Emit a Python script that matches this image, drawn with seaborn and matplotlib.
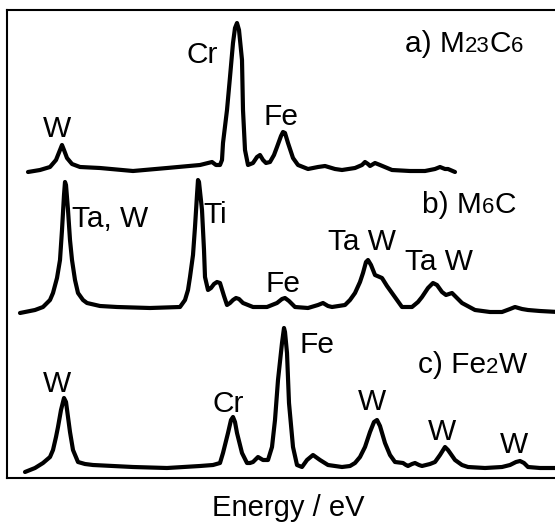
import numpy as np
import pandas as pd
import matplotlib
matplotlib.use("Agg")
import matplotlib.pyplot as plt
import seaborn as sns

# ---------------- data ----------------
# energy axis in arbitrary (uncalibrated) units; intensities relative to each spectrum's baseline
energy_a = [28, 40, 50, 56, 60, 62, 64, 67, 72, 80, 100, 133, 167, 200, 208, 212, 216, 220,
            222, 223, 227, 230, 233, 235, 237, 239, 242, 243, 245, 248, 253, 257, 260, 263,
            266, 270, 274, 277, 281, 283, 285, 288, 293, 298, 308, 318, 325, 335, 342, 355,
            362, 365, 368, 370, 375, 380, 392, 410, 425, 435, 440, 445, 448, 455]
inten_a = [-2, 0, 3, 10, 20, 25, 20, 12, 6, 3, 2, -1, 2, 5, 7, 8, 5, 5,
           10, 27, 60, 93, 127, 142, 147, 140, 110, 60, 20, 5, 7, 13, 15, 10,
           7, 8, 15, 23, 34, 38, 37, 27, 12, 5, 1, 3, 4, 1, 0, 2,
           5, 8, 6, 4, 7, 5, 0, -1, -1, 1, 3, 1, 1, -2]

energy_b = [20, 35, 43, 50, 53, 57, 60, 62, 64, 65, 66, 68, 70, 72, 75, 78, 83, 87, 100, 117,
            150, 180, 185, 188, 190, 193, 195, 197, 198, 199, 202, 204, 205, 208, 211, 214,
            217, 220, 224, 227, 230, 233, 236, 239, 243, 253, 267, 277, 282, 285, 289, 295,
            308, 318, 323, 328, 332, 345, 350, 355, 360, 363, 366, 368, 371, 375, 382, 387,
            392, 397, 402, 412, 418, 422, 428, 433, 437, 442, 446, 449, 452, 457, 462, 475,
            490, 502, 510, 515, 522, 528, 540, 558]
inten_b = [-3, 0, 3, 10, 17, 32, 50, 80, 115, 128, 125, 100, 70, 50, 30, 17, 10, 7, 4, 3,
           2, 3, 10, 20, 33, 55, 83, 115, 130, 128, 100, 60, 33, 20, 22, 26,
           28, 27, 14, 5, 7, 10, 12, 11, 7, 3, 3, 7, 11, 12, 9, 3,
           2, 5, 7, 4, 3, 5, 10, 17, 28, 37, 48, 50, 45, 35, 32, 24,
           17, 10, 3, 3, 8, 13, 22, 27, 25, 18, 15, 16, 17, 12, 7, 0,
           -2, -2, 1, 3, 1, 0, -1, -2]

energy_c = [25, 35, 43, 50, 53, 56, 58, 61, 64, 66, 68, 70, 73, 78, 85, 93, 133, 167, 200,
            213, 220, 223, 228, 231, 233, 235, 237, 242, 247, 250, 253, 258, 263, 268, 272,
            275, 278, 282, 284, 285, 287, 289, 293, 297, 302, 307, 313, 320, 328, 342, 350,
            355, 360, 365, 370, 374, 377, 380, 385, 390, 395, 403, 406, 408, 412, 415, 419,
            422, 430, 435, 440, 445, 448, 455, 462, 468, 485, 502, 510, 516, 520, 524, 528,
            540, 558]
inten_c = [-3, 1, 6, 12, 19, 32, 42, 59, 71, 67, 52, 37, 19, 7, 5, 4, 2, 1, 3,
           4, 6, 16, 36, 49, 52, 47, 36, 16, 6, 6, 7, 12, 9, 9, 22,
           49, 89, 126, 141, 137, 116, 66, 22, 4, 2, 9, 14, 9, 4, 2, 3,
           6, 12, 22, 37, 47, 49, 43, 26, 14, 7, 6, 4, 3, 5, 6, 4,
           3, 5, 7, 14, 22, 19, 9, 4, 2, 1, 2, 4, 7, 8, 6, 2,
           1, 1]

spectra = ["a", "b", "c"]
titles = {"a": ("a) M", "23", "C", "6"), "b": ("b) M", "6", "C", ""), "c": ("c) Fe", "2", "W", "")}

# peak labels: (spectrum, text, energy position of label's left edge, label height above baseline)
peak_labels = [
    ("a", "W", 43, 33), ("a", "Cr", 187, 107), ("a", "Fe", 263, 45),
    ("b", "Ta, W", 72, 83), ("b", "Ti", 203, 87), ("b", "Fe", 266, 18),
    ("b", "Ta W", 328, 60), ("b", "Ta W", 405, 40),
    ("c", "W", 43, 77), ("c", "Cr", 213, 57), ("c", "Fe", 300, 116),
    ("c", "W", 358, 59), ("c", "W", 428, 29), ("c", "W", 500, 16),
]

# ---------------- styling / layout ----------------
offsets = {"a": 355, "b": 215, "c": 56}
title_pos = {"a": (405, 118), "b": (422, 97), "c": (418, 96)}

sns.set_theme(style="white")
plt.rcParams["font.family"] = ["Liberation Sans", "DejaVu Sans"]

fig = plt.figure(figsize=(5.55, 5.25), dpi=100)
ax = fig.add_axes([7 / 555, 47 / 525, 1.0, 468 / 525])

frames = []
for key, en, it in (("a", energy_a, inten_a), ("b", energy_b, inten_b), ("c", energy_c, inten_c)):
    frames.append(pd.DataFrame({"energy": en, "intensity": np.array(it) + offsets[key], "spectrum": key}))
df = pd.concat(frames, ignore_index=True)

sns.lineplot(data=df, x="energy", y="intensity", units="spectrum", estimator=None, sort=False,
             color="black", lw=3.0, ax=ax, legend=False,
             solid_joinstyle="round", solid_capstyle="round")

ax.set_xlim(7, 562)
ax.set_ylim(47, 515)
ax.set_xticks([])
ax.set_yticks([])
ax.set_ylabel("")
for side in ["left", "top", "bottom", "right"]:
    ax.spines[side].set_color("black")
    ax.spines[side].set_linewidth(1.5)

big = 21.5
small = 16

for spec, txt, xe, h in peak_labels:
    ax.text(xe, offsets[spec] + h, txt, fontsize=big, ha="left", va="baseline", color="black")

for spec in spectra:
    parts = titles[spec]
    x0, h = title_pos[spec]
    y = offsets[spec] + h
    t = ax.text(x0, y, parts[0], fontsize=big, ha="left", va="baseline", color="black")
    prev = t
    for i, p in enumerate(parts[1:]):
        if not p:
            continue
        size = small if i % 2 == 0 else big
        prev = ax.annotate(p, xy=(1, y), xycoords=(prev, "data"), fontsize=size,
                           ha="left", va="baseline", color="black")

ax.set_xlabel("Energy / eV", fontsize=21, color="black")
ax.xaxis.set_label_coords((288 - 7) / 555, -0.035)

fig.savefig("out.png", dpi=100)
